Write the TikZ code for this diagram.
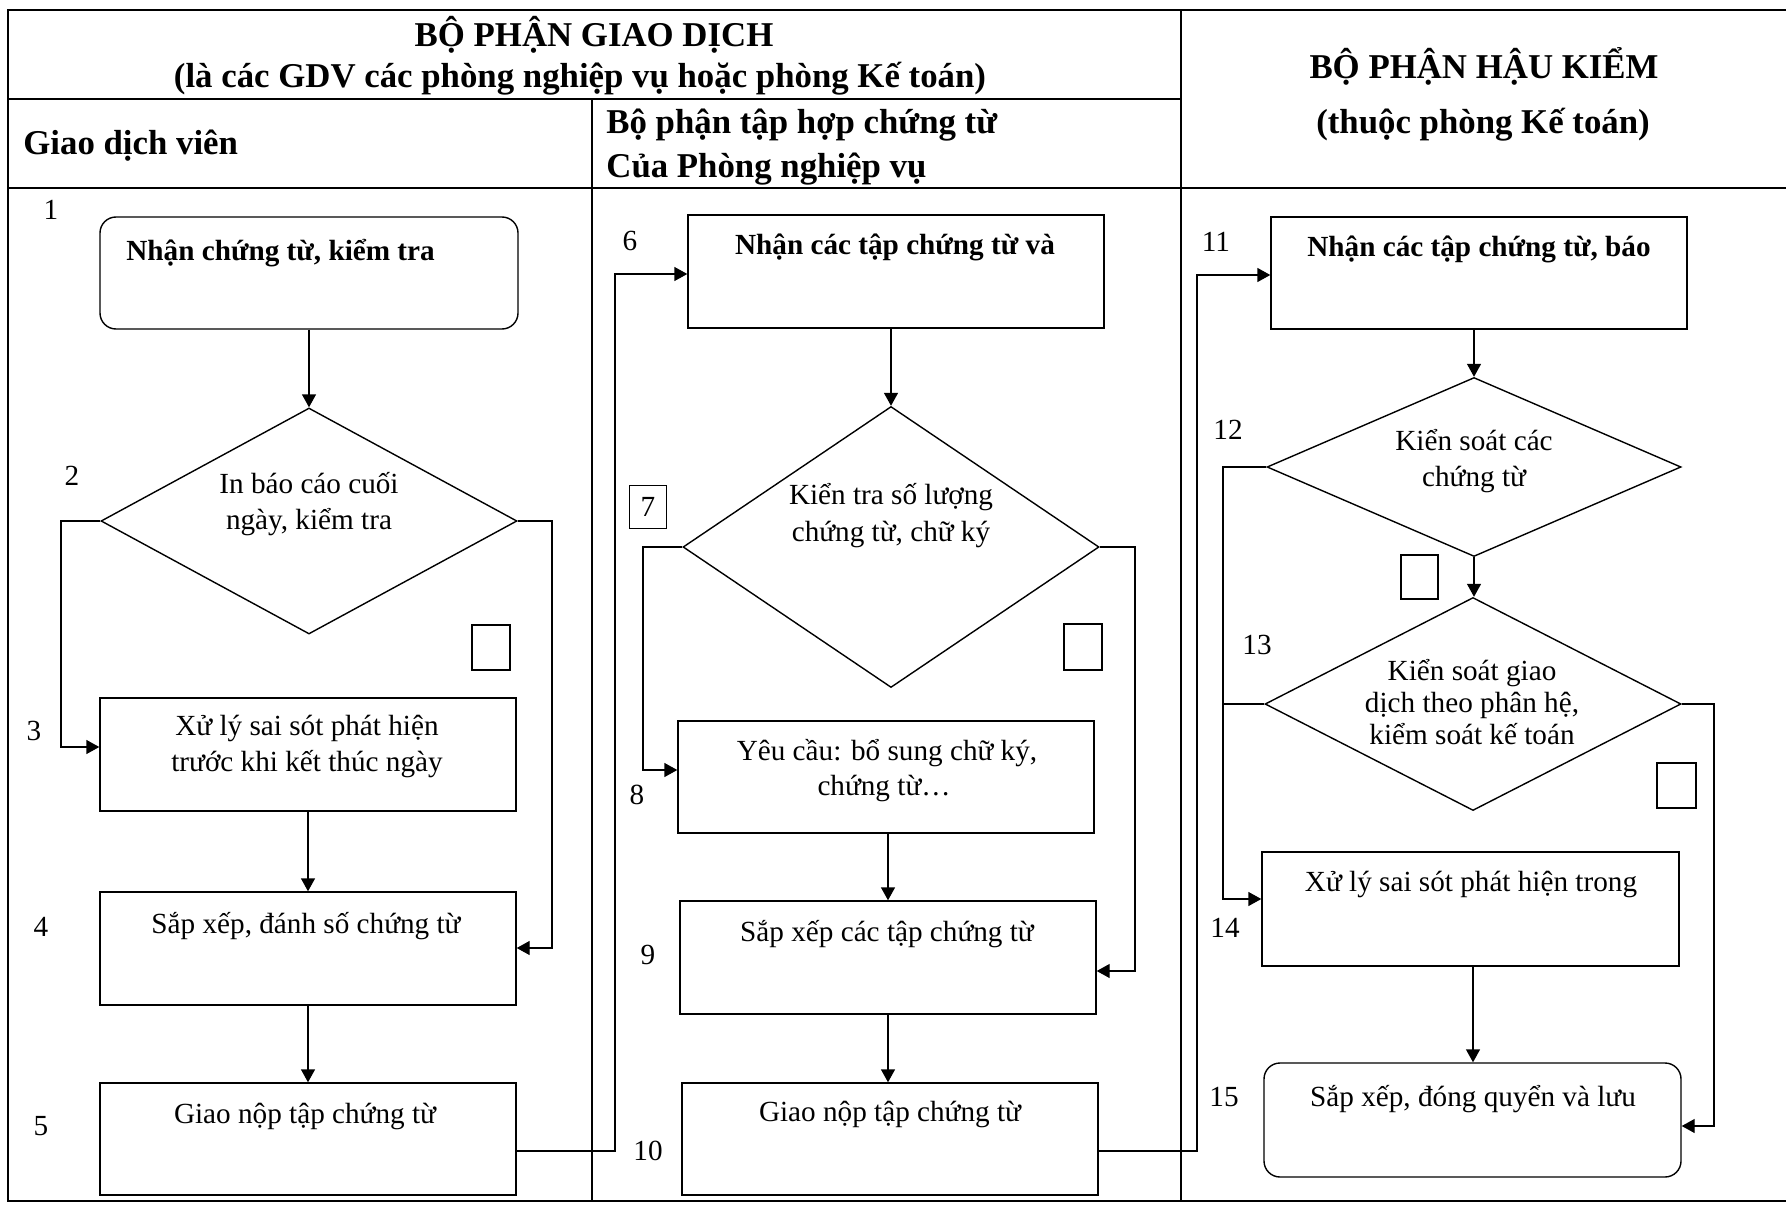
\documentclass[tikz,border=0pt]{standalone}
\usepackage{fontspec}
\setmainfont{Liberation Serif}
\usetikzlibrary{arrows.meta,shapes.geometric,fit}
\begin{document}
\begin{tikzpicture}[x=0.5pt,y=-0.5pt,
  every node/.style={font=\fontsize{14.6}{17.5}\selectfont, inner sep=0pt},
  frame/.style={line width=1.3pt},
  lane/.style={line width=0.9pt},
  stepbox/.style={draw, line width=0.7pt, inner sep=0pt},
  roundbox/.style={stepbox, rounded corners=8pt},
  decision/.style={draw, diamond, line width=0.7pt, inner sep=0pt},
  tick/.style={draw, line width=0.7pt, inner sep=0pt},
  txt/.style={anchor=base},
  hdr/.style={anchor=base, font=\fontsize{14.6}{17.5}\selectfont\bfseries},
  lanehead/.style={anchor=base, font=\fontsize{17.4}{21}\selectfont\bfseries},
  num/.style={anchor=base},
  flow/.style={line width=0.7pt, -{Triangle[length=6.5pt,width=7pt]}},
  wire/.style={line width=0.7pt}
]
\useasboundingbox (0,0) rectangle (1786,1208);

% table frame and swim lanes
\draw[frame] (1786,10) -- (8,10) -- (8,1201) -- (1786,1201);
\draw[frame] (8,188) -- (1786,188);
\draw[lane] (8,99) -- (1181,99);
\draw[lane] (592,99) -- (592,1201);
\draw[lane] (1181,10) -- (1181,1201);

% headings
\node[lanehead] (h1) at (594,47) {BỘ PHẬN GIAO DỊCH};
\node[lanehead] (h2) at (580,88) {(là các GDV các phòng nghiệp vụ hoặc phòng Kế toán)};
\node[lanehead, anchor=base west] (h3) at (23,155) {Giao dịch viên};
\node[lanehead, anchor=base west] (h4) at (606,134) {Bộ phận tập hợp chứng từ};
\node[lanehead, anchor=base west] (h5) at (606,178) {Của Phòng nghiệp vụ};
\node[lanehead] (h6) at (1484,79) {BỘ PHẬN HẬU KIỂM};
\node[lanehead] (h7) at (1483,134) {(thuộc phòng Kế toán)};

% ---- lane 1: Giao dich vien ----
\node[roundbox, fit={(100,217) (518,329)}] (b1) {};
\node[hdr, anchor=base west] (t1) at (126,261) {Nhận chứng từ, kiểm tra};
\node[decision, minimum width=208pt, minimum height=113pt] (d2) at (309,521) {};
\node[txt] (t2a) at (309,493) {In báo cáo cuối};
\node[txt] (t2b) at (309,529) {ngày, kiểm tra};
\node[tick, fit={(472,625) (510,670)}] (q2) {};
\node[stepbox, fit={(100,698) (516,811)}] (b3) {};
\node[txt] (t3a) at (307,735) {Xử lý sai sót phát hiện};
\node[txt] (t3b) at (307,771) {trước khi kết thúc ngày};
\node[stepbox, fit={(100,892) (516,1005)}] (b4) {};
\node[txt] (t4) at (306,933) {Sắp xếp, đánh số chứng từ};
\node[stepbox, fit={(100,1083) (516,1195)}] (b5) {};
\node[txt] (t5) at (305,1123) {Giao nộp tập chứng từ};

\node[num] (n1) at (51,220) {1};
\node[num] (n2) at (72,485) {2};
\node[num] (n3) at (34,740) {3};
\node[num] (n4) at (41,936) {4};
\node[num] (n5) at (41,1135) {5};

\coordinate (k2l) at (61,747);
\coordinate (k2r) at (552,948);
\draw[flow] (b1.south -| d2.north) -- (d2.north);
\draw[flow] (d2.west) -| (k2l) -- (b3.west |- k2l);
\draw[flow] (d2.east) -| (k2r) -- (b4.east |- k2r);
\draw[flow] (b3.south) -- (b4.north);
\draw[flow] (b4.south) -- (b5.north);

% ---- lane 2: tap hop chung tu ----
\node[stepbox, fit={(688,215) (1104,328)}] (b6) {};
\node[hdr] (t6) at (895,255) {Nhận các tập chứng từ và};
\node[decision, minimum width=208pt, minimum height=140.5pt] (d7) at (891,547) {};
\node[txt] (t7a) at (891,504) {Kiển tra số lượng};
\node[txt] (t7b) at (891,541) {chứng từ, chữ ký};
\node[tick, minimum width=18.5pt, minimum height=21.5pt] (n7) at (648,507) {7};
\node[tick, fit={(1064,624) (1102,670)}] (q7) {};
\node[stepbox, fit={(678,721) (1094,833)}] (b8) {};
\node[txt] (t8a) at (887,760) {Yêu cầu: bổ sung chữ ký,};
\node[txt] (t8b) at (884,795) {chứng từ…};
\node[stepbox, fit={(680,901) (1096,1014)}] (b9) {};
\node[txt] (t9) at (887,941) {Sắp xếp các tập chứng từ};
\node[stepbox, fit={(682,1083) (1098,1195)}] (b10) {};
\node[txt] (t10) at (890,1121) {Giao nộp tập chứng từ};

\node[num] (n6) at (630,251) {6};
\node[num] (n8) at (637,804) {8};
\node[num] (n9) at (648,964) {9};
\node[num] (n10) at (648,1160) {10};

\coordinate (k5) at (615,1151);
\coordinate (k6) at (615,274);
\draw[flow] (b5.east |- k5) -- (k5) -- (k6) -- (b6.west |- k6);
\coordinate (k7l) at (643,770);
\coordinate (k7r) at (1135,971);
\draw[flow] (d7.north |- b6.south) -- (d7.north);
\draw[flow] (d7.west) -| (k7l) -- (b8.west |- k7l);
\draw[flow] (d7.east) -| (k7r) -- (b9.east |- k7r);
\draw[flow] (b9.north |- b8.south) -- (b9.north);
\draw[flow] (b9.south) -- (b9.south |- b10.north);

% ---- lane 3: hau kiem ----
\node[stepbox, fit={(1271,217) (1687,329)}] (b11) {};
\node[hdr] (t11) at (1479,257) {Nhận các tập chứng từ, báo};
\node[decision, minimum width=207pt, minimum height=89.5pt] (d12) at (1474,467) {};
\node[txt] (t12a) at (1474,450) {Kiển soát các};
\node[txt] (t12b) at (1474,486) {chứng từ};
\node[tick, fit={(1401,555) (1438,599)}] (q12) {};
\node[decision, minimum width=208pt, minimum height=106.5pt] (d13) at (1473,704) {};
\node[txt] (t13a) at (1472,680) {Kiển soát giao};
\node[txt] (t13b) at (1472,712) {dịch theo phân hệ,};
\node[txt] (t13c) at (1472,744) {kiểm soát kế toán};
\node[tick, fit={(1657,763) (1696,808)}] (q13) {};
\node[stepbox, fit={(1262,852) (1679,966)}] (b14) {};
\node[txt] (t14) at (1471,891) {Xử lý sai sót phát hiện trong};
\node[roundbox, fit={(1264,1063) (1681,1177)}] (b15) {};
\node[txt] (t15) at (1473,1106) {Sắp xếp, đóng quyển và lưu};

\node[num] (n11) at (1216,252) {11};
\node[num] (n12) at (1228,439) {12};
\node[num] (n13) at (1257,654) {13};
\node[num] (n14) at (1225,937) {14};
\node[num] (n15) at (1224,1106) {15};

\coordinate (k10) at (1197,1151);
\coordinate (k11) at (1197,275);
\draw[flow] (b10.east |- k10) -- (k10) -- (k11) -- (b11.west |- k11);
\coordinate (k14) at (1223,899);
\coordinate (k15) at (1714,1126);
\draw[flow] (d12.north |- b11.south) -- (d12.north);
\draw[flow] (d12.south) -- (d12.south |- d13.north);
\draw[flow] (d12.west) -| (k14) -- (b14.west |- k14);
\draw[wire] (d13.west) -- (d13.west -| k14);
\draw[flow] (d13.east) -| (k15) -- (b15.east |- k15);
\draw[flow] (b14.south -| d13.south) -- (d13.south |- b15.north);
\end{tikzpicture}
\end{document}
